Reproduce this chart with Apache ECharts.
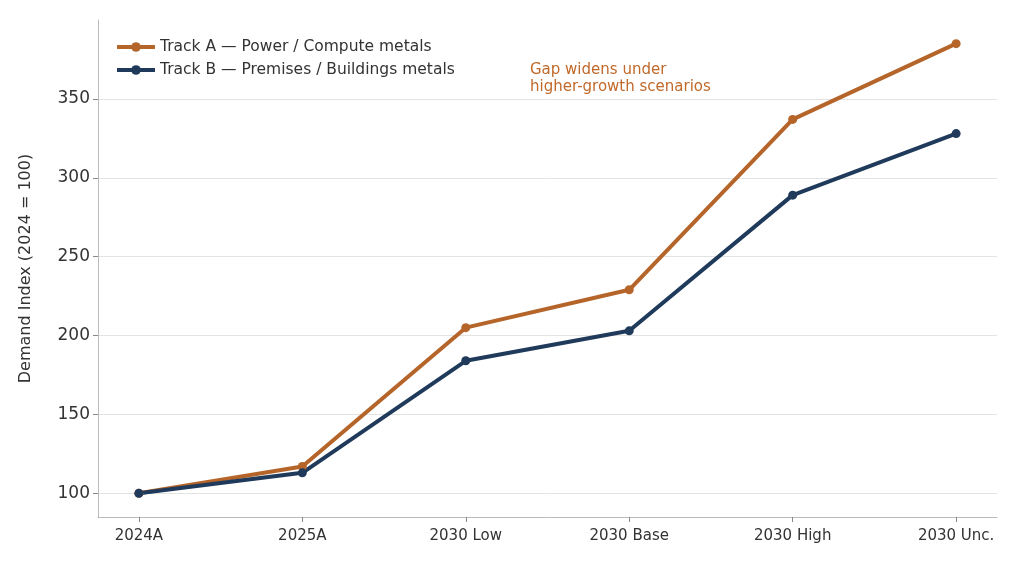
<!DOCTYPE html><html><head><meta charset="utf-8"><script src="https://cdn.jsdelivr.net/npm/echarts@6/dist/echarts.min.js"></script></head><body style="margin:0"><div id="c" style="width:1024px;height:569px"></div><script>
const categories=['2024A','2025A','2030 Low','2030 Base','2030 High','2030 Unc.'];
const trackA=[100,117,205,229,337,385];
const trackB=[100,113,184,203,289,328];
const yTicks=[100,150,200,250,300,350];
const c=echarts.init(document.getElementById('c'));
const font='DejaVu Sans';
const mk=(n,d,col)=>({name:n,type:'line',data:d.map((v,i)=>[i,v]),symbol:'circle',symbolSize:9,lineStyle:{width:4,color:col},itemStyle:{color:col}});
c.setOption({animation:false,textStyle:{fontFamily:font},
grid:{left:98,right:27,top:20,bottom:52},
legend:{left:110,top:34,orient:'vertical',itemGap:7,itemWidth:38,itemHeight:12,lineStyle:{width:4},textStyle:{fontSize:15.5,color:'#333',fontFamily:font},data:['Track A — Power / Compute metals','Track B — Premises / Buildings metals']},
xAxis:{type:'value',min:-0.25,max:5.25,axisLine:{lineStyle:{color:'#bbb'}},splitLine:{show:false},axisTick:{customValues:[0,1,2,3,4,5],lineStyle:{color:'#888'}},axisLabel:{customValues:[0,1,2,3,4,5],formatter:v=>categories[v],fontSize:15,color:'#333',margin:12}},
yAxis:{type:'value',min:85,max:400,name:'Demand Index (2024 = 100)',nameLocation:'middle',nameGap:64,nameTextStyle:{fontSize:16,color:'#333'},axisLine:{show:true,onZero:false,lineStyle:{color:'#bbb'}},axisTick:{show:true,customValues:yTicks,lineStyle:{color:'#888'}},axisLabel:{customValues:yTicks,fontSize:17,color:'#333'},splitLine:{show:true,lineStyle:{color:'#e3e3e3'}}},
graphic:[{type:'text',left:530,top:62,style:{text:'Gap widens under\nhigher-growth scenarios',fill:'#c0692a',fontSize:15,lineHeight:17,fontFamily:font}}],
series:[mk('Track A — Power / Compute metals',trackA,'#b5652a'),mk('Track B — Premises / Buildings metals',trackB,'#1f3a5a')]});
</script></body></html>
